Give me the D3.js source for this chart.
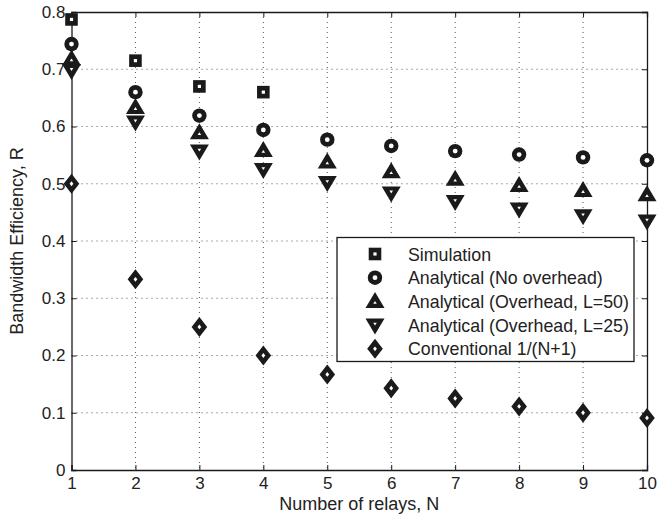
<!DOCTYPE html>
<html><head><meta charset="utf-8">
<script src="https://cdn.jsdelivr.net/npm/d3@7"></script>
<style>body{margin:0;background:#fff;} text{font-family:"Liberation Sans",Arial,sans-serif;fill:#222;}</style>
</head><body><svg id="c" width="672" height="516"></svg>
<script>
const relays = [1,2,3,4,5,6,7,8,9,10];
const simulation = [0.787,0.715,0.670,0.660];
const noOverhead = [0.744,0.660,0.619,0.594,0.577,0.566,0.557,0.551,0.546,0.541];
const overheadL50 = [0.718,0.633,0.589,0.558,0.538,0.521,0.508,0.497,0.488,0.481];
const overheadL25 = [0.698,0.608,0.557,0.525,0.502,0.484,0.469,0.456,0.444,0.435];
const conventional = [0.500,0.333,0.250,0.200,0.167,0.143,0.125,0.111,0.100,0.091];
const yTicks = [0,0.1,0.2,0.3,0.4,0.5,0.6,0.7,0.8];
const legendLabels = ["Simulation","Analytical (No overhead)","Analytical (Overhead, L=50)","Analytical (Overhead, L=25)","Conventional 1/(N+1)"];

const svg = d3.select("#c");
const L=71.5, R=647, T=12, B=470;
const x = d3.scaleLinear().domain([1,10]).range([L,R]);
const y = d3.scaleLinear().domain([0,0.8]).range([B,T]);
const ink="#1a1a1a";
const FS="17px", FL="17.8px";

// grid
const g = svg.append("g");
g.selectAll(".gx").data(relays.slice(1,-1)).enter().append("line")
 .attr("x1",d=>x(d)).attr("x2",d=>x(d)).attr("y1",T).attr("y2",B)
 .attr("stroke","#555").attr("stroke-width",1).attr("stroke-dasharray","1,4");
g.selectAll(".gy").data(yTicks.slice(1,-1)).enter().append("line")
 .attr("x1",L).attr("x2",R).attr("y1",d=>y(d)).attr("y2",d=>y(d))
 .attr("stroke","#555").attr("stroke-width",1).attr("stroke-dasharray","1,4");

// axes
const ax = svg.append("g").attr("transform",`translate(0,${B})`)
 .call(d3.axisBottom(x).tickValues(relays).tickSize(-5).tickPadding(7).tickFormat(d3.format("d")));
const ay = svg.append("g").attr("transform",`translate(${L},0)`)
 .call(d3.axisLeft(y).tickValues(yTicks).tickSize(-5).tickPadding(6).tickFormat(d=>d===0?"0":d3.format(".1f")(d)));
const axT = svg.append("g").attr("transform",`translate(0,${T})`)
 .call(d3.axisTop(x).tickValues(relays).tickSize(-5).tickFormat(""));
const ayR = svg.append("g").attr("transform",`translate(${R},0)`)
 .call(d3.axisRight(y).tickValues(yTicks).tickSize(-5).tickFormat(""));
[ax,ay,axT,ayR].forEach(a=>{
  a.select(".domain").attr("stroke",ink).attr("stroke-width",1.3);
  a.selectAll(".tick line").attr("stroke",ink);
  a.selectAll("text").style("font-size",FS).attr("fill","#222");
});

// marker shapes: outer black shape + small white centre
const outer = {
  square: "M-6.3,-6.3H6.3V6.3H-6.3Z",
  circle: d3.arc()({innerRadius:0,outerRadius:7.2,startAngle:0,endAngle:2*Math.PI}),
  up: "M0,-9.5L9.5,6.5L-9.5,6.5Z",
  down: "M0,9.5L9.5,-6.5L-9.5,-6.5Z",
  diamond: "M0,-10L7.8,0L0,10L-7.8,0Z"
};
const inner = {
  square: "M-1.6,-1.6H1.6V1.6H-1.6Z",
  circle: d3.arc()({innerRadius:0,outerRadius:2.4,startAngle:0,endAngle:2*Math.PI}),
  up: "M0,-0.5L1.8,2.3L-1.8,2.3Z",
  down: "M0,0.5L1.8,-2.3L-1.8,-2.3Z",
  diamond: "M0,-2.4L1.9,0L0,2.4L-1.9,0Z"
};
function marker(sel, shape){
  sel.append("path").attr("d",outer[shape]).attr("fill",ink);
  sel.append("path").attr("d",inner[shape]).attr("fill","#fff");
}
function drawSeries(vals, shape){
  svg.append("g").selectAll("g").data(vals).enter().append("g")
   .attr("transform",(d,i)=>`translate(${x(relays[i])},${y(d)})`)
   .each(function(){ marker(d3.select(this), shape); });
}
drawSeries(conventional,"diamond");
drawSeries(overheadL25,"down");
drawSeries(overheadL50,"up");
drawSeries(noOverhead,"circle");
drawSeries(simulation,"square");

// legend
const lg = svg.append("g");
lg.append("rect").attr("x",337).attr("y",237.5).attr("width",297).attr("height",124)
 .attr("fill","#fff").attr("stroke",ink).attr("stroke-width",1.3);
const lshapes=["square","circle","up","down","diamond"];
legendLabels.forEach((t,i)=>{
  const yy = 254 + i*23.7;
  marker(lg.append("g").attr("transform",`translate(375,${yy})`), lshapes[i]);
  lg.append("text").attr("x",408).attr("y",yy+6.5).style("font-size",FL).text(t);
});

// axis labels
svg.append("text").attr("x",(L+R)/2).attr("y",510).attr("text-anchor","middle").style("font-size","18px").text("Number of relays, N");
svg.append("text").attr("transform",`translate(23,${(T+B)/2}) rotate(-90)`).attr("text-anchor","middle").style("font-size","18px").text("Bandwidth Efficiency, R");
</script></body></html>
